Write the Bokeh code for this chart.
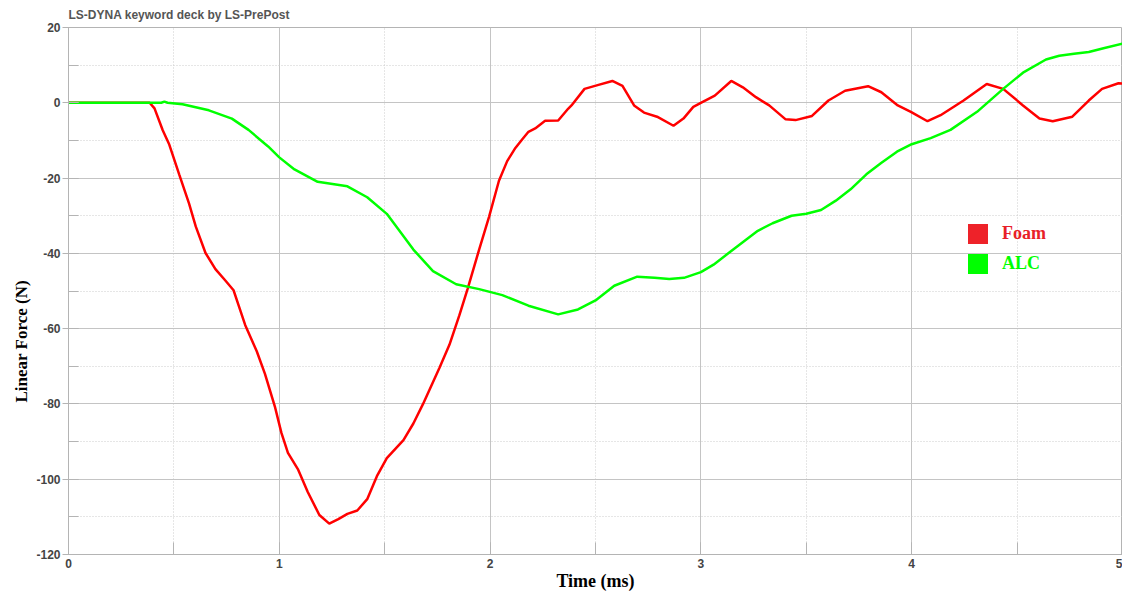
from bokeh.plotting import figure
from bokeh.models import SingleIntervalTicker, Legend, LegendItem, Range1d, PrintfTickFormatter, Title
from bokeh.embed import file_html
from bokeh.resources import INLINE

title_text = "LS-DYNA keyword deck by LS-PrePost"
x_label = "Time (ms)"
y_label = "Linear Force (N)"
series_names = ["Foam", "ALC"]

foam_t = [0.0, 0.2, 0.385, 0.408, 0.447, 0.478, 0.525, 0.572, 0.604, 0.650, 0.697, 0.744, 0.783,
          0.807, 0.838, 0.893, 0.932, 0.979, 1.01, 1.041, 1.088, 1.135, 1.19, 1.237, 1.28, 1.323,
          1.37, 1.417, 1.463, 1.51, 1.589, 1.636, 1.682, 1.76, 1.807, 1.854, 1.893, 1.948, 1.995,
          2.042, 2.081, 2.12, 2.151, 2.182, 2.214, 2.261, 2.323, 2.37, 2.386, 2.448, 2.51, 2.58,
          2.628, 2.683, 2.73, 2.792, 2.87, 2.917, 2.964, 3.011, 3.066, 3.144, 3.199, 3.261, 3.324,
          3.402, 3.449, 3.527, 3.605, 3.684, 3.793, 3.856, 3.934, 3.996, 4.075, 4.137, 4.246,
          4.356, 4.434, 4.528, 4.606, 4.669, 4.762, 4.84, 4.903, 4.981, 5.0]
foam_f = [0.0, 0.0, 0.0, -1.5, -7.3, -11.1, -19.0, -26.8, -32.9, -39.9, -44.2, -47.2, -49.8,
          -53.8, -59.0, -66.0, -72.0, -80.7, -87.7, -93.0, -97.3, -103.4, -109.5, -111.8, -110.6, -109.2,
          -108.3, -105.3, -99.2, -94.4, -89.6, -85.2, -80.0, -70.4, -64.3, -56.5, -49.5, -39.0, -30.3,
          -20.7, -15.5, -12.0, -9.8, -7.7, -6.8, -4.8, -4.7, -1.6, -0.7, 3.7, 4.7, 5.8,
          4.5, -0.7, -2.6, -3.7, -6.1, -4.2, -1.1, 0.3, 1.9, 5.8, 4.1, 1.5, -0.7,
          -4.4, -4.6, -3.5, 0.6, 3.2, 4.4, 2.8, -0.7, -2.4, -4.9, -3.3, 0.6,
          5.0, 3.7, -0.7, -4.2, -4.9, -3.7, 0.6, 3.7, 5.2, 5.1]

alc_t = [0.0, 0.3, 0.44, 0.455, 0.47, 0.541, 0.666, 0.775, 0.854, 0.947, 1.0, 1.072, 1.182,
         1.323, 1.417, 1.51, 1.636, 1.729, 1.839, 1.948, 2.058, 2.182, 2.323, 2.417, 2.50, 2.589,
         2.698, 2.78, 2.85, 2.92, 3.0, 3.06, 3.13, 3.20, 3.27, 3.34, 3.43, 3.50, 3.57, 3.64, 3.71,
         3.785, 3.855, 3.93, 4.0, 4.09, 4.184, 4.31, 4.434, 4.528, 4.637, 4.70, 4.77, 4.84, 4.91, 5.0]
alc_f = [0.0, 0.0, 0.0, 0.3, 0.0, -0.4, -2.0, -4.2, -7.2, -11.6, -14.5, -17.7, -21.0,
         -22.2, -25.1, -29.5, -39.0, -44.7, -48.2, -49.5, -51.1, -53.9, -56.2, -54.9, -52.5, -48.6,
         -46.2, -46.5, -46.8, -46.5, -45.0, -43.0, -40.0, -37.0, -34.0, -32.0, -30.0, -29.5, -28.5, -26.0, -23.0,
         -19.0, -16.0, -13.0, -11.0, -9.4, -7.2, -2.4, 3.7, 8.0, 11.5, 12.5, 13.0, 13.5, 14.5, 15.7]

FOAM_COLOR = "#ff0000"
ALC_COLOR = "#00ff00"
nan = float("nan")

p = figure(width=1122, height=593, output_backend="svg", toolbar_location=None,
           x_range=Range1d(0, 5), y_range=Range1d(-120, 20),
           min_border_left=68, min_border_right=0, min_border_top=25, min_border_bottom=39,
           background_fill_color="white", border_fill_color="white")

p.title.text = title_text
p.title.text_font = "Liberation Sans"
p.title.text_font_size = "12px"
p.title.text_font_style = "bold"
p.title.text_color = "#555555"
p.title.standoff = 11

p.outline_line_color = "#b4b4b4"
p.outline_line_width = 1

p.xaxis.ticker = SingleIntervalTicker(interval=1, num_minor_ticks=2)
p.yaxis.ticker = SingleIntervalTicker(interval=20, num_minor_ticks=2)
p.xaxis.formatter = PrintfTickFormatter(format="%d")
p.yaxis.formatter = PrintfTickFormatter(format="%d")

for ax in (p.xaxis[0], p.yaxis[0]):
    ax.axis_line_color = "#b4b4b4"
    ax.major_tick_line_color = "#b4b4b4"
    ax.minor_tick_line_color = "#b4b4b4"
    ax.major_label_text_font = "Liberation Sans"
    ax.major_label_text_font_style = "bold"
    ax.major_label_text_font_size = "12px"
    ax.major_label_text_color = "#444444"
    ax.axis_label_text_font = "Liberation Serif"
    ax.axis_label_text_font_style = "bold"
    ax.axis_label_text_font_size = "18px"
    ax.axis_label_text_color = "#000000"

p.xaxis.axis_label = x_label
p.xaxis.major_tick_in = 12
p.xaxis.major_tick_out = 0
p.xaxis.minor_tick_in = 12
p.xaxis.minor_tick_out = 0
p.xaxis.major_label_standoff = 4
p.xaxis.axis_label_standoff = 0
p.yaxis.major_tick_in = 10
p.yaxis.major_tick_out = 6
p.yaxis.minor_tick_in = 10
p.yaxis.minor_tick_out = 0
p.yaxis.major_label_standoff = 2

for g in (p.xgrid[0], p.ygrid[0]):
    g.grid_line_color = "#c4c4c4"
    g.grid_line_width = 1
    g.minor_grid_line_color = "#cccccc"
    g.minor_grid_line_dash = "1 2"
    g.minor_grid_line_width = 1

p.line(foam_t, foam_f, line_color=FOAM_COLOR, line_width=2.5)
p.line(alc_t, alc_f, line_color=ALC_COLOR, line_width=2.5)

# y-axis title as a side title (allows placing it lower than the frame centre, as in the original)
p.add_layout(Title(text=y_label, align="left", offset=152, standoff=6,
                   text_font="Liberation Serif", text_font_style="bold",
                   text_font_size="17px", text_color="#000000"), "left")

# legend swatches (renderers with a single NaN row, used only for the legend glyph)
foam_sw = p.quad(left=[nan], right=[nan], top=[nan], bottom=[nan], fill_color="#ee2229", line_color=None)
alc_sw = p.quad(left=[nan], right=[nan], top=[nan], bottom=[nan], fill_color=ALC_COLOR, line_color=None)

for name, sw, col, loc in ((series_names[0], foam_sw, "#e82027", (897, 308)),
                           (series_names[1], alc_sw, ALC_COLOR, (897, 278))):
    lg = Legend(items=[LegendItem(label=name, renderers=[sw])], location=loc,
                glyph_width=25, glyph_height=25, label_standoff=12, padding=0, margin=0,
                border_line_color=None, background_fill_alpha=0,
                label_text_font="Liberation Serif", label_text_font_style="bold",
                label_text_font_size="18px", label_text_color=col, label_height=25)
    p.add_layout(lg, "center")

open("out.html", "w").write(file_html(p, INLINE))
